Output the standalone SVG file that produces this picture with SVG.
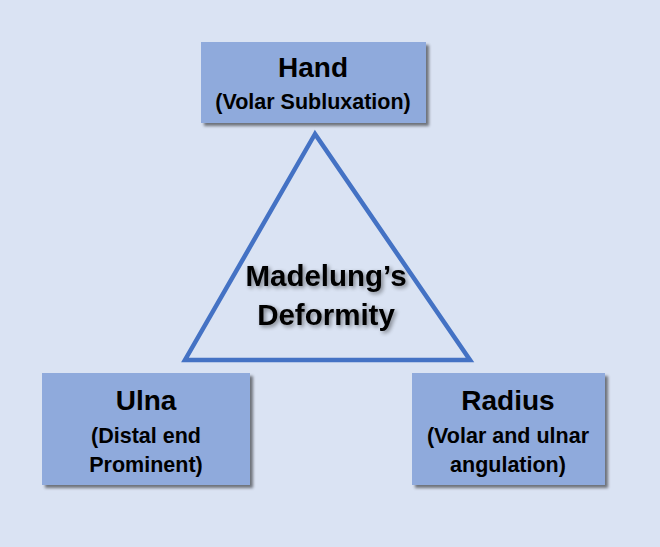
<svg xmlns="http://www.w3.org/2000/svg" width="660" height="547" viewBox="0 0 660 547">
<defs>
<filter id="boxShadow" x="-10%" y="-10%" width="130%" height="130%">
<feGaussianBlur in="SourceAlpha" stdDeviation="1.5"/>
<feOffset dx="2.5" dy="2.5" result="o"/>
<feComponentTransfer><feFuncA type="linear" slope="0.5"/></feComponentTransfer>
<feMerge><feMergeNode/><feMergeNode in="SourceGraphic"/></feMerge>
</filter>
<filter id="textShadow" x="-10%" y="-20%" width="130%" height="150%">
<feGaussianBlur in="SourceAlpha" stdDeviation="2"/>
<feOffset dx="2" dy="2" result="o"/>
<feComponentTransfer><feFuncA type="linear" slope="0.45"/></feComponentTransfer>
<feMerge><feMergeNode/><feMergeNode in="SourceGraphic"/></feMerge>
</filter>
</defs>
<style>
.box{fill:#8faadc;}
.t{font-family:"Liberation Sans",Arial,sans-serif;font-weight:bold;fill:#000;text-anchor:middle;}
.h{font-size:28px;}
.m{font-size:29.5px;}
.s{font-size:21.5px;}
.tri{fill:none;stroke:#4472c4;stroke-width:4.5;stroke-linejoin:miter;}
</style>
<rect width="660" height="547" fill="#dae3f3"/>
<g id="connectors">
<polygon class="tri" points="315,134 185,360 470,360"/>
</g>
<g id="center">
<g filter="url(#textShadow)">
<text class="t m" x="326" y="286">Madelung’s</text>
<text class="t m" x="326" y="325">Deformity</text>
</g>
</g>
<g id="hand">
<rect class="box" x="201" y="42" width="225" height="81" filter="url(#boxShadow)"/>
<text class="t h" x="313" y="77">Hand</text>
<text class="t s" x="313" y="109">(Volar Subluxation)</text>
</g>
<g id="ulna">
<rect class="box" x="42" y="373" width="208" height="112" filter="url(#boxShadow)"/>
<text class="t h" x="146" y="410">Ulna</text>
<text class="t s" x="146" y="443">(Distal end</text>
<text class="t s" x="146" y="472">Prominent)</text>
</g>
<g id="radius">
<rect class="box" x="412" y="373" width="193" height="112" filter="url(#boxShadow)"/>
<text class="t h" x="508" y="410">Radius</text>
<text class="t s" x="508" y="443">(Volar and ulnar</text>
<text class="t s" x="508" y="472">angulation)</text>
</g>
</svg>
